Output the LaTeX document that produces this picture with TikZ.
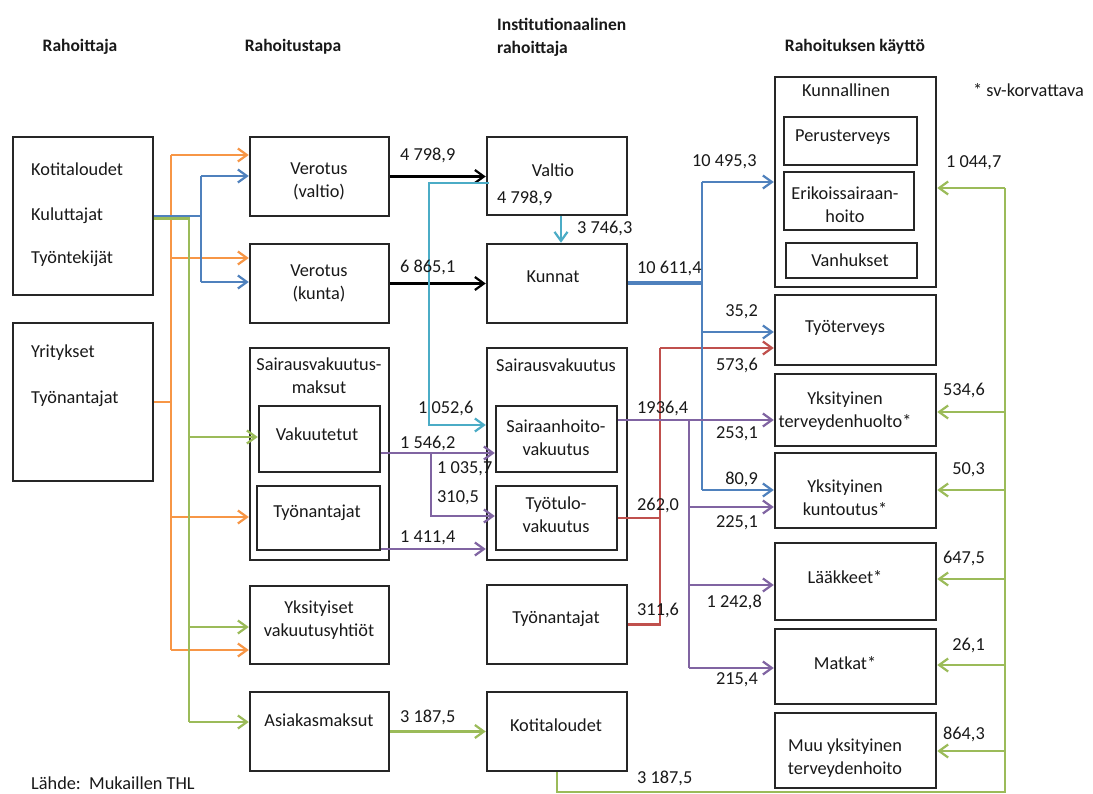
\documentclass[tikz,border=0pt]{standalone}
\usepackage{fontspec}
\setmainfont{Carlito}
\usetikzlibrary{arrows.meta,calc,fit}
\definecolor{cOr}{HTML}{F79646}
\definecolor{cBl}{HTML}{4F81BD}
\definecolor{cGr}{HTML}{9BBB59}
\definecolor{cRd}{HTML}{C0504D}
\definecolor{cPu}{HTML}{8064A2}
\definecolor{cCy}{HTML}{4BACC6}
\begin{document}
\begin{tikzpicture}[x=1pt,y=-1pt, font=\fontsize{18.3}{23}\selectfont,
 box/.style={draw=black!85, line width=2.5pt, inner sep=0pt},
 txt/.style={inner sep=0pt, align=center, text=black!90},
 num/.style={inner sep=0pt, text=black!90},
 hdr/.style={inner sep=0pt, align=left, text=black!90, font=\fontsize{17.5}{23}\selectfont\bfseries},
 con/.style={line width=2.2pt},
 arr/.style={con, -{Straight Barb[length=9pt,width=13pt,line width=2.2pt]}}]
\useasboundingbox[fill=white] (0,0) rectangle (1093,794);

% headers
\node[hdr] (h1) at (80,47) {Rahoittaja};
\node[hdr] (h2) at (293,47) {Rahoitustapa};
\node[hdr, anchor=west] (h3) at (497,37.5) {Institutionaalinen\\rahoittaja};
\node[hdr] (h4) at (855,47) {Rahoituksen käyttö};
\node[num, anchor=west] (note) at (973,90) {* sv-korvattava};
\node[num, anchor=west] (src) at (31,783) {Lähde:\ \ Mukaillen THL};

% boxes
\node[box, fit={(13,137)(153,295)}] (A) {};
\node[box, fit={(13,323)(153,481)}] (B) {};
\node[box, fit={(250,137)(389,216)}] (C1) {};
\node[box, fit={(250,244)(389,323)}] (C2) {};
\node[box, fit={(250,348)(389,560)}] (C3) {};
\node[box, fit={(259,406)(380,472)}] (C3a) {};
\node[box, fit={(257,486)(380,550)}] (C3b) {};
\node[box, fit={(250,586)(389,664)}] (C4) {};
\node[box, fit={(250,692)(389,771)}] (C5) {};
\node[box, fit={(487,137)(627,215)}] (D1) {};
\node[box, fit={(487,244)(627,323)}] (D2) {};
\node[box, fit={(487,348)(627,560)}] (D3) {};
\node[box, fit={(496,406)(617,472)}] (D3a) {};
\node[box, fit={(496,486)(617,550)}] (D3b) {};
\node[box, fit={(487,585)(627,664)}] (D4) {};
\node[box, fit={(487,692)(627,771)}] (D5) {};
\node[box, fit={(775,77)(936,287)}] (E0) {};
\node[box, fit={(784,117)(917,165)}] (E0a) {};
\node[box, fit={(784,172)(914,230)}] (E0b) {};
\node[box, fit={(786,243)(917,278)}] (E0c) {};
\node[box, fit={(775,295)(936,365)}] (E1) {};
\node[box, fit={(775,374)(936,446)}] (E2) {};
\node[box, fit={(775,453)(936,528)}] (E3) {};
\node[box, fit={(775,543)(936,620)}] (E4) {};
\node[box, fit={(775,629)(936,704)}] (E5) {};
\node[box, fit={(775,713)(936,788)}] (E6) {};

% box texts
\node[txt, anchor=west] (tA1) at (31,169) {Kotitaloudet};
\node[txt, anchor=west] (tA2) at (31,216) {Kuluttajat};
\node[txt, anchor=west] (tA3) at (31,259) {Työntekijät};
\node[txt, anchor=west] (tB1) at (31,353) {Yritykset};
\node[txt, anchor=west] (tB2) at (31,399) {Työnantajat};
\node[txt] (tC1) at (319,181.5) {Verotus\\(valtio)};
\node[txt] (tC2) at (319,283.5) {Verotus\\(kunta)};
\node[txt] (tC3) at (319,376) {Sairausvakuutus-\\maksut};
\node[txt] (tC3a) at (317,434) {Vakuutetut};
\node[txt] (tC3b) at (317,513) {Työnantajat};
\node[txt] (tC4) at (319,620.5) {Yksityiset\\vakuutusyhtiöt};
\node[txt] (tC5) at (319,720) {Asiakasmaksut};
\node[txt] (tD1) at (553,170) {Valtio};
\node[txt] (tD2) at (553,277) {Kunnat};
\node[txt] (tD3) at (556,365) {Sairausvakuutus};
\node[txt] (tD3a) at (556,437.5) {Sairaanhoito-\\vakuutus};
\node[txt] (tD3b) at (556,515) {Työtulo-\\vakuutus};
\node[txt] (tD4) at (556,619) {Työnantajat};
\node[txt] (tD5) at (556,725) {Kotitaloudet};
\node[txt, anchor=west] (tE0) at (802,90) {Kunnallinen};
\node[txt, anchor=west] (tE0a) at (795,137) {Perusterveys};
\node[txt] (tE0b) at (845,204.5) {Erikoissairaan-\\hoito};
\node[txt] (tE0c) at (850,260) {Vanhukset};
\node[txt] (tE1) at (845,328) {Työterveys};
\node[txt] (tE2) at (845,411.5) {Yksityinen\\terveydenhuolto*};
\node[txt] (tE3) at (845,497.5) {Yksityinen\\kuntoutus*};
\node[txt] (tE4) at (845,577) {Lääkkeet*};
\node[txt] (tE5) at (845,663) {Matkat*};
\node[txt] (tE6) at (845,758.5) {Muu yksityinen\\terveydenhoito};

% orange
\coordinate (o1) at (171,155);
\coordinate (o2) at (171,258);
\coordinate (o3) at (171,517);
\coordinate (o4) at (171,650);
\draw[con,cOr] (B.east) -- (B.east -| o1);
\draw[con,cOr] (o1) -- (o4);
\draw[arr,cOr] (o1) -- (o1 -| C1.west);
\draw[arr,cOr] (o2) -- (o2 -| C2.west);
\draw[arr,cOr] (o3) -- (o3 -| C3.west);
\draw[arr,cOr] (o4) -- (o4 -| C4.west);

% blue (left)
\coordinate (b1) at (201,176);
\coordinate (b2) at (201,282);
\draw[con,cBl] (A.east) -- (A.east -| b1);
\draw[con,cBl] (b1) -- (b2);
\draw[arr,cBl] (b1) -- (b1 -| C1.west);
\draw[arr,cBl] (b2) -- (b2 -| C2.west);

% green (left)
\coordinate (g0) at (189,218.5);
\coordinate (g1) at (189,437);
\coordinate (g2) at (189,627);
\coordinate (g3) at (189,722);
\draw[con,cGr] (A.east |- g0) -- (g0) -- (g3);
\draw[arr,cGr] (g1) -- (g1 -| C3a.west);
\draw[arr,cGr] (g2) -- (g2 -| C4.west);
\draw[arr,cGr] (g3) -- (g3 -| C5.west);

% black
\draw[arr,black] (C1.east) -- (C1.east -| D1.west);
\draw[arr,black] (C2.east) -- (C2.east -| D2.west);

% cyan
\coordinate (c1) at (429,183);
\coordinate (c2) at (429,425);
\draw[arr,cCy] ($(D1.west |- c1)+(3,0)$) -- (c1) -- (c2) -- (c2 -| D3.west);
\draw[arr,cCy] ($(D1.south)+(4,0)$) -- ($(D2.north)+(4,0)$);

% red
\coordinate (r1) at (660,348);
\draw[con,cRd] (D3b.east) -- (D3b.east -| r1);
\draw[con,cRd] (D4.east) -- (D4.east -| r1) -- (r1);
\draw[arr,cRd] (r1) -- (r1 -| E1.west);

% blue (right)
\coordinate (k1) at (702,182);
\coordinate (k2) at (702,332);
\coordinate (k3) at (702,490);
\draw[cBl, line width=4pt] (D2.east) -- (D2.east -| k1);
\draw[cBl, line width=2.8pt] (k1) -- (k3);
\draw[arr,cBl] (k1) -- (k1 -| E0.west);
\draw[arr,cBl] (k2) -- (k2 -| E1.west);
\draw[arr,cBl] (k3) -- (k3 -| E3.west);

% purple
\coordinate (p1) at (431,453);
\coordinate (p2) at (431,516);
\coordinate (p3) at (431,549);
\draw[arr,cPu] (C3a.east |- p1) -- (p1 -| D3a.west);
\draw[arr,cPu] (p1) -- (p2) -- (p2 -| D3b.west);
\draw[arr,cPu] (C3b.east |- p3) -- (p3 -| D3.west);
\coordinate (q0) at (689,420);
\coordinate (q1) at (689,507);
\coordinate (q2) at (689,585);
\coordinate (q3) at (689,668);
\draw[arr,cPu] (D3a.east |- q0) -- (q0 -| E2.west);
\draw[con,cPu] (q0) -- (q3);
\draw[arr,cPu] (q1) -- (q1 -| E3.west);
\draw[arr,cPu] (q2) -- (q2 -| E4.west);
\draw[arr,cPu] (q3) -- (q3 -| E5.west);

% green (right)
\coordinate (s0) at (1005,188);
\coordinate (s1) at (1005,412);
\coordinate (s2) at (1005,490);
\coordinate (s3) at (1005,579);
\coordinate (s4) at (1005,665);
\coordinate (s5) at (1005,751);
\coordinate (sb) at (1005,792);
\draw[arr,cGr] (C5.east) -- (C5.east -| D5.west);
\draw[con,cGr] (D5.south) -- (D5.south |- sb) -- (sb) -- (s0);
\draw[arr,cGr] (s0) -- (s0 -| E0.east);
\draw[arr,cGr] (s1) -- (s1 -| E2.east);
\draw[arr,cGr] (s2) -- (s2 -| E3.east);
\draw[arr,cGr] (s3) -- (s3 -| E4.east);
\draw[arr,cGr] (s4) -- (s4 -| E5.east);
\draw[arr,cGr] (s5) -- (s5 -| E6.east);

% numbers
\node[num, anchor=west] (n1) at (400,155) {4 798,9};
\node[num, anchor=west] (n2) at (400,267) {6 865,1};
\node[num, anchor=west] (n3) at (497,198) {4 798,9};
\node[num, anchor=west] (n4) at (577,228) {3 746,3};
\node[num, anchor=west] (n5) at (637,268) {10 611,4};
\node[num, anchor=west] (n6) at (692,162) {10 495,3};
\node[num, anchor=west] (n7) at (418,408) {1 052,6};
\node[num, anchor=west] (n8) at (400,443) {1 546,2};
\node[num, anchor=west] (n9) at (437,469) {1 035,7};
\node[num, anchor=west] (n10) at (437,498) {310,5};
\node[num, anchor=west] (n11) at (400,538) {1 411,4};
\node[num, anchor=west] (n12) at (400,717) {3 187,5};
\node[num, anchor=west] (n13) at (637,408) {1936,4};
\node[num, anchor=west] (n14) at (637,505) {262,0};
\node[num, anchor=west] (n15) at (637,610) {311,6};
\node[num, anchor=west] (n16) at (637,778) {3 187,5};
\node[num, anchor=east] (n17) at (758,312) {35,2};
\node[num, anchor=east] (n18) at (758,365) {573,6};
\node[num, anchor=east] (n19) at (758,434) {253,1};
\node[num, anchor=east] (n20) at (758,479) {80,9};
\node[num, anchor=east] (n21) at (758,523) {225,1};
\node[num, anchor=east] (n22) at (762,602) {1 242,8};
\node[num, anchor=east] (n23) at (758,680) {215,4};
\node[num, anchor=west] (n24) at (946,163) {1 044,7};
\node[num, anchor=east] (n25) at (985,390) {534,6};
\node[num, anchor=east] (n26) at (985,470) {50,3};
\node[num, anchor=east] (n27) at (985,558) {647,5};
\node[num, anchor=east] (n28) at (985,645) {26,1};
\node[num, anchor=east] (n29) at (985,734) {864,3};
\end{tikzpicture}
\end{document}
